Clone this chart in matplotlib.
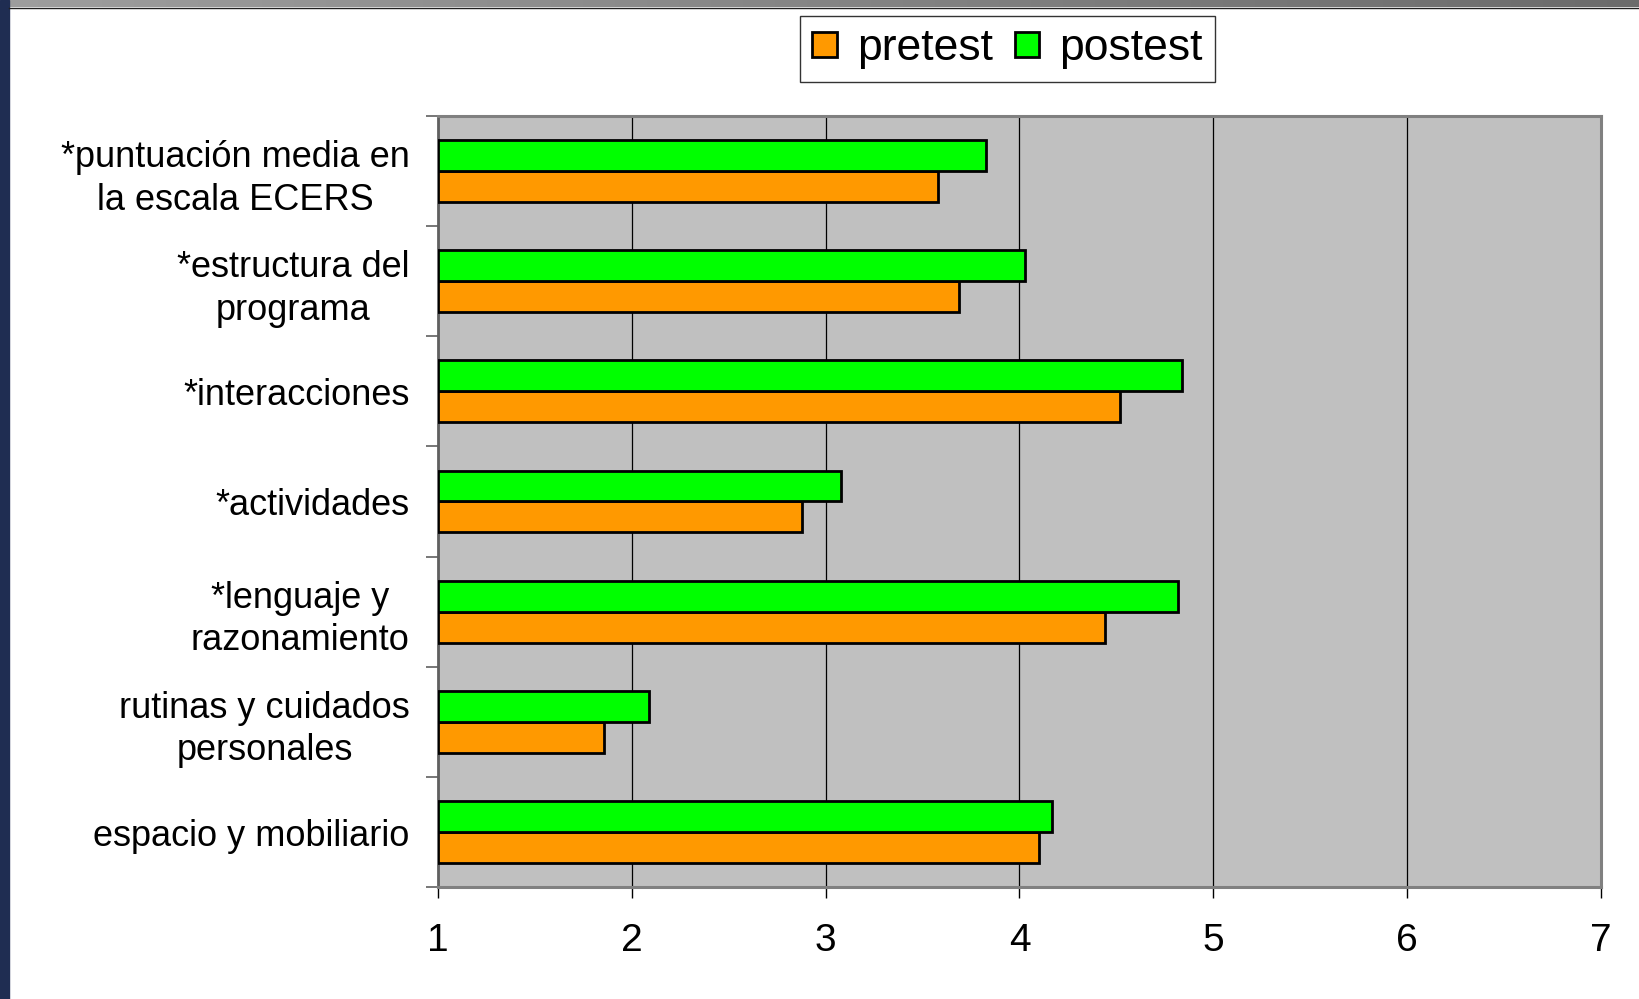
import numpy as np
import matplotlib
matplotlib.use("Agg")
import matplotlib.pyplot as plt
import matplotlib.transforms as mtransforms
from matplotlib.patches import Patch, Rectangle
from matplotlib.ticker import FixedLocator

plt.rcParams['font.family'] = ['Liberation Sans', 'DejaVu Sans']

# categories bottom -> top
categories = ["espacio y mobiliario",
              "rutinas y cuidados\npersonales",
              "*lenguaje y\nrazonamiento",
              "*actividades",
              "*interacciones",
              "*estructura del\nprograma",
              "*puntuación media en\nla escala ECERS"]
pretest = [4.10, 1.86, 4.44, 2.88, 4.52, 3.69, 3.58]
postest = [4.17, 2.09, 4.82, 3.08, 4.84, 4.03, 3.83]
xticks = [1, 2, 3, 4, 5, 6, 7]

ORANGE = "#FF9900"
GREEN = "#00FF00"

fig = plt.figure(figsize=(16.39, 9.99), dpi=100)
fig.patch.set_facecolor("white")

# frame decoration: navy strip on left, grey strip on top
deco = fig.add_axes([0, 0, 1, 1])
deco.axis("off")
grad = np.linspace(0.62, 0.42, 256).reshape(1, -1)
deco.imshow(np.dstack([grad, grad, grad]), extent=(0, 1639, 7, 0), aspect="auto")
deco.add_patch(Rectangle((0, 0), 9, 999, color="#1f2d52"))
deco.plot([9, 1639], [7.5, 7.5], color="#202020", lw=1)
deco.set_xlim(0, 1639)
deco.set_ylim(999, 0)

ax = fig.add_axes([0.267, 0.112, 0.710, 0.772])
ax.set_facecolor("#C0C0C0")

y = np.arange(len(categories))
h = 0.28
ax.barh(y - h / 2, np.array(pretest) - 1, left=1, height=h, color=ORANGE,
        edgecolor="black", linewidth=2, zorder=3)
ax.barh(y + h / 2, np.array(postest) - 1, left=1, height=h, color=GREEN,
        edgecolor="black", linewidth=2, zorder=3)

ax.set_xlim(1, 7)
ax.set_ylim(-0.5, len(categories) - 0.5)
ax.set_xticks(xticks)
ax.set_xticklabels([str(t) for t in xticks], fontsize=28)
ax.tick_params(axis="x", length=8, width=1, color="black", pad=18)
ax.grid(axis="x", color="black", linewidth=0.9, zorder=1)

ax.set_yticks(y)
ax.set_yticklabels(categories, fontsize=26, multialignment="center",
                   linespacing=1.28)
shift = mtransforms.ScaledTranslation(0, 3 / 72, fig.dpi_scale_trans)
for lbl in ax.get_yticklabels():
    lbl.set_transform(lbl.get_transform() + shift)
ax.yaxis.set_minor_locator(FixedLocator(np.arange(-0.5, len(categories), 1)))
ax.tick_params(axis="y", which="major", length=0, pad=20)
ax.tick_params(axis="y", which="minor", length=9, width=1.2, color="#606060")

for side in ["top", "right", "bottom"]:
    ax.spines[side].set_color("#808080")
    ax.spines[side].set_linewidth(2.2)
ax.spines["left"].set_color("#606060")
ax.spines["left"].set_linewidth(2)

handles = [Patch(facecolor=ORANGE, edgecolor="black", linewidth=2, label="pretest"),
           Patch(facecolor=GREEN, edgecolor="black", linewidth=2, label="postest")]
leg = fig.legend(handles=handles, ncol=2, loc="upper left",
                 bbox_to_anchor=(0.488, 0.984), borderaxespad=0, fontsize=32,
                 frameon=True, fancybox=False, edgecolor="black",
                 handlelength=0.55, handleheight=0.5, handletextpad=0.45,
                 columnspacing=0.5, borderpad=0.28)
leg.get_frame().set_linewidth(1)

fig.savefig("out.png", dpi=100)
